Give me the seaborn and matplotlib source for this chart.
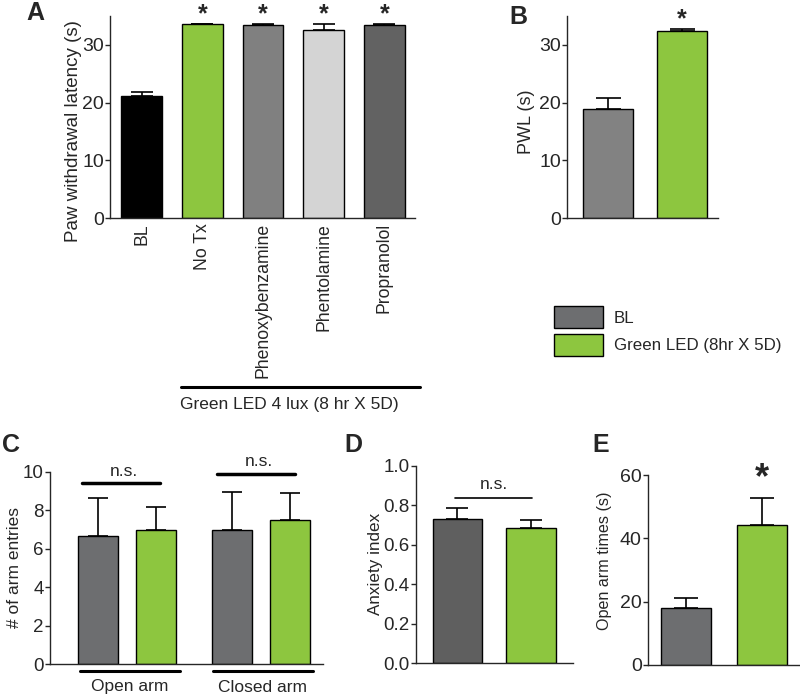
import pandas as pd
import seaborn as sns
import matplotlib.pyplot as plt
from matplotlib.patches import Patch

# Panel A: paw withdrawal latency
a_groups = ["BL", "No Tx", "Phenoxybenzamine", "Phentolamine", "Propranolol"]
a_means = [21.2, 33.6, 33.4, 32.6, 33.5]
a_sem = [0.7, 0.05, 0.2, 1.0, 0.1]
a_colors = ["#000000", "#8dc63f", "#808080", "#d4d4d4", "#626262"]

# Panel B: PWL
b_groups = ["BL", "Green LED (8hr X 5D)"]
b_means = [18.9, 32.4]
b_sem = [1.9, 0.4]
b_colors = ["#828282", "#8dc63f"]

# Panel C: arm entries
c_arms = ["Open arm", "Closed arm"]
c_bl = [6.67, 7.0]
c_green = [7.0, 7.5]
c_bl_sem = [2.0, 1.95]
c_green_sem = [1.2, 1.4]

# Panel D: anxiety index
d_means = [0.73, 0.683]
d_sem = [0.055, 0.042]

# Panel E: open arm times
e_means = [18.1, 44.4]
e_sem = [3.2, 8.5]

gray = "#6d6e70"
green = "#8dc63f"

sns.set_style("ticks")
plt.rcParams["font.family"] = ["Liberation Sans", "DejaVu Sans"]
plt.rcParams["axes.linewidth"] = 1.0

fig = plt.figure(figsize=(8, 6.95), dpi=100)


def style(ax, tick_size):
    sns.despine(ax=ax)
    ax.tick_params(axis="y", labelsize=tick_size, length=3.5, width=1, pad=1)
    ax.tick_params(axis="x", length=0)
    ax.set_xlabel("")


def add_err(ax, means, sems, capw=8):
    bars = sorted(ax.patches, key=lambda p: p.get_x())
    bars = [p for p in bars if p.get_height() > 0]
    xs = [p.get_x() + p.get_width() / 2 for p in bars]
    ax.errorbar(xs, means, yerr=[[0] * len(sems), sems], fmt="none",
                ecolor="black", elinewidth=1.2, capsize=capw, capthick=1.2, zorder=1)


# ---- A ----
ax = fig.add_axes([0.1375, 0.6863, 0.381, 0.2906])
df_a = pd.DataFrame({"group": a_groups, "val": a_means})
sns.barplot(data=df_a, x="group", y="val", hue="group", palette=a_colors, saturation=1,
            width=0.67, edgecolor="black", linewidth=1, legend=False, ax=ax, zorder=2)
add_err(ax, a_means, a_sem, capw=8)
ax.set_ylim(0, 35)
ax.set_xlim(-0.52, 4.5)
ax.set_yticks([0, 10, 20, 30])
ax.set_ylabel("Paw withdrawal latency (s)", fontsize=13.5)
ax.yaxis.set_label_coords(-0.092, 0.43)
style(ax, 14)
ax.set_xticks(range(len(a_groups)))
ax.set_xticklabels(a_groups, rotation=90, fontsize=12.7)
for i in range(1, 5):
    ax.text(i, 33.3, "*", ha="center", va="bottom", fontsize=18, fontweight="bold")
fig.add_artist(plt.Line2D([181 / 800, 420 / 800], [1 - 387 / 695] * 2, color="black", lw=2.2))
fig.text(289 / 800, 1 - 404 / 695, "Green LED 4 lux (8 hr X 5D)", ha="center", va="center", fontsize=12.5)
fig.text(26 / 800, 1 - 13 / 695, "A", fontsize=18, fontweight="bold", va="center")

# ---- B ----
ax = fig.add_axes([0.709, 0.6863, 0.189, 0.2906])
df_b = pd.DataFrame({"group": b_groups, "val": b_means})
sns.barplot(data=df_b, x="group", y="val", hue="group", palette=b_colors, saturation=1,
            width=0.68, edgecolor="black", linewidth=1, legend=False, ax=ax, zorder=2)
add_err(ax, b_means, b_sem, capw=9)
ax.set_ylim(0, 35)
ax.set_xlim(-0.55, 1.49)
ax.set_yticks([0, 10, 20, 30])
ax.set_ylabel("PWL (s)", fontsize=13)
ax.yaxis.set_label_coords(-0.21, 0.475)
style(ax, 14)
ax.set_xticks([])
ax.text(1, 32.4, "*", ha="center", va="bottom", fontsize=18, fontweight="bold")
fig.text(509 / 800, 1 - 17 / 695, "B", fontsize=18, fontweight="bold", va="center")

# legend
handles = [Patch(facecolor=gray, edgecolor="black", label=b_groups[0]),
           Patch(facecolor=green, edgecolor="black", label=b_groups[1])]
fig.legend(handles=handles, loc="upper left", bbox_to_anchor=(539 / 800, 1 - 291 / 695),
           frameon=False, fontsize=12.2, handlelength=2.9, handleheight=1.6,
           handletextpad=0.6, labelspacing=0.35)

# ---- C ----
ax = fig.add_axes([0.0625, 0.0446, 0.341, 0.2763])
df_c = pd.DataFrame({"arm": c_arms * 2, "cond": ["BL"] * 2 + ["Green"] * 2,
                     "val": c_bl + c_green})
sns.barplot(data=df_c, x="arm", y="val", hue="cond", palette=[gray, green], saturation=1,
            width=0.865, gap=0.31, edgecolor="black", linewidth=1, legend=False, ax=ax, zorder=2)
bars = sorted(ax.patches, key=lambda p: p.get_x())
xs = [p.get_x() + p.get_width() / 2 for p in bars if p.get_height() > 0]
means_c = [c_bl[0], c_green[0], c_bl[1], c_green[1]]
sems_c = [c_bl_sem[0], c_green_sem[0], c_bl_sem[1], c_green_sem[1]]
ax.errorbar(xs, means_c, yerr=[[0] * 4, sems_c], fmt="none", ecolor="black",
            elinewidth=1.2, capsize=7.5, capthick=1.2, zorder=1)
ax.set_ylim(0, 10)
ax.set_xlim(-0.57, 1.457)
ax.set_yticks([0, 2, 4, 6, 8, 10])
ax.set_ylabel("# of arm entries", fontsize=12.5)
ax.yaxis.set_label_coords(-0.103, 0.5)
style(ax, 13.5)
ax.set_xticks([])
for i, h in enumerate([9.4, 9.9]):
    ax.plot([i - 0.33, i + 0.25], [h, h], color="black", lw=2.5, clip_on=False)
    ax.text(i - 0.02, h + 0.25, "n.s.", ha="center", va="bottom", fontsize=12.5)
for x0, x1, lab, cx in [(80, 180, "Open arm", 130), (213, 313, "Closed arm", 263)]:
    fig.add_artist(plt.Line2D([x0 / 800, x1 / 800], [1 - 671 / 695] * 2, color="black", lw=2.2))
    fig.text(cx / 800, 1 - 687 / 695, lab, ha="center", va="center", fontsize=12.5)
fig.text(2 / 800, 1 - 445 / 695, "C", fontsize=18, fontweight="bold", va="center")

# ---- D ----
ax = fig.add_axes([0.52, 0.046, 0.196, 0.284])
df_d = pd.DataFrame({"group": b_groups, "val": d_means})
sns.barplot(data=df_d, x="group", y="val", hue="group", palette=["#5f5f5f", green], saturation=1,
            width=0.68, edgecolor="black", linewidth=1, legend=False, ax=ax, zorder=2)
add_err(ax, d_means, d_sem, capw=8)
ax.set_ylim(0, 1.0)
ax.set_xlim(-0.565, 1.57)
ax.set_yticks([0, 0.2, 0.4, 0.6, 0.8, 1.0])
ax.set_yticklabels(["0.0", "0.2", "0.4", "0.6", "0.8", "1.0"])
ax.set_ylabel("Anxiety index", fontsize=12.3)
ax.yaxis.set_label_coords(-0.21, 0.5)
style(ax, 13.5)
ax.set_xticks([])
ax.plot([-0.03, 1.02], [0.835, 0.835], color="black", lw=1.2)
ax.text(0.5, 0.865, "n.s.", ha="center", va="bottom", fontsize=12.5)
fig.text(344 / 800, 1 - 445 / 695, "D", fontsize=18, fontweight="bold", va="center")

# ---- E ----
ax = fig.add_axes([0.81, 0.0432, 0.19, 0.273])
df_e = pd.DataFrame({"group": b_groups, "val": e_means})
sns.barplot(data=df_e, x="group", y="val", hue="group", palette=[gray, green], saturation=1,
            width=0.67, edgecolor="black", linewidth=1, legend=False, ax=ax, zorder=2)
add_err(ax, e_means, e_sem, capw=8.5)
ax.set_ylim(0, 60)
ax.set_xlim(-0.5, 1.5)
ax.set_yticks([0, 20, 40, 60])
ax.set_ylabel("Open arm times (s)", fontsize=11.6)
ax.yaxis.set_label_coords(-0.237, 0.55)
style(ax, 14)
ax.set_xticks([])
ax.text(1, 53.5, "*", ha="center", va="bottom", fontsize=26, fontweight="bold")
fig.text(592 / 800, 1 - 445 / 695, "E", fontsize=18, fontweight="bold", va="center")

fig.savefig("out.png", dpi=100)
